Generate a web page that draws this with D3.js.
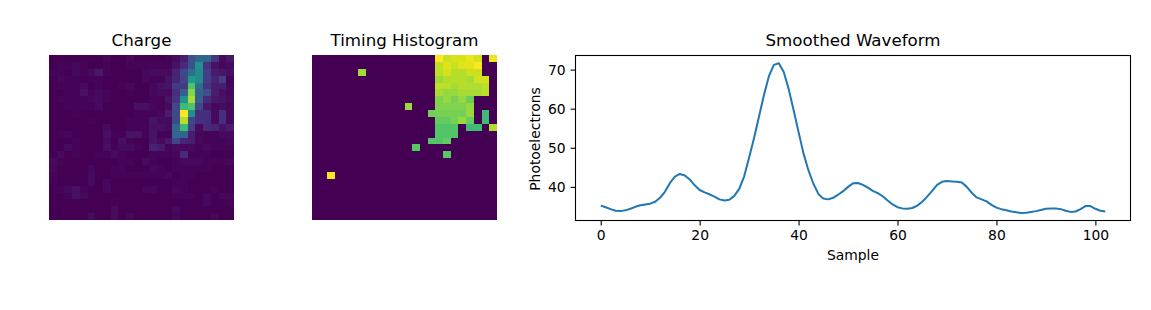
<!DOCTYPE html>
<html>
<head>
<meta charset="utf-8">
<script src="https://cdnjs.cloudflare.com/ajax/libs/d3/7.8.5/d3.min.js"></script>
<style>
  html, body { margin: 0; padding: 0; background: #fff; }
  svg { display: block; }
  text { font-family: "DejaVu Sans", sans-serif; fill: #000; }
  .title { font-size: 16.67px; text-anchor: middle; }
  .label { font-size: 13.89px; text-anchor: middle; }
  .tick text { font-size: 13.89px; font-family: "DejaVu Sans", sans-serif; }
  .tick line { stroke: #000; stroke-width: 1.1px; }
</style>
</head>
<body>
<div id="chart"></div>
<script>
// charge per pixel, 0-100 of the colour range
var charge_rows = [
  [0,0,0,0,0,0,0,2,0,0,2,0,0,0,0,1,3,8,25,33,33,15,3,6],
  [0,1,1,2,1,0,0,1,0,0,1,1,1,1,1,1,5,12,24,50,15,5,2,3],
  [1,1,0,2,1,3,6,1,0,0,0,0,2,3,3,3,10,22,36,48,18,8,6,4],
  [0,2,1,1,0,1,1,0,0,0,0,0,2,1,1,5,10,20,55,48,18,10,18,1],
  [0,1,1,1,3,0,1,0,0,1,2,0,0,2,4,5,17,17,72,36,15,8,8,2],
  [0,0,1,1,4,1,2,1,0,0,1,0,0,2,3,3,14,30,82,30,24,8,4,2],
  [0,1,1,1,1,2,3,1,0,0,0,0,0,1,1,5,15,50,87,30,12,6,5,3],
  [0,0,1,1,1,1,3,0,0,0,0,4,4,2,1,3,22,68,72,22,6,2,3,2],
  [0,0,0,1,0,0,0,0,0,0,0,1,1,1,2,8,22,100,50,13,13,3,14,2],
  [0,0,0,0,0,1,0,0,0,0,1,1,1,5,3,3,22,89,22,13,13,3,14,2],
  [0,0,0,0,0,0,0,3,0,0,1,1,1,4,4,3,33,68,18,3,12,10,5,8],
  [0,1,2,0,0,0,0,4,1,1,5,5,1,5,1,1,33,32,8,2,1,1,3,3],
  [0,0,0,1,0,0,0,3,0,4,1,0,0,5,3,6,20,10,8,2,1,1,1,2],
  [0,0,3,1,0,0,0,4,1,3,3,1,0,9,7,1,3,2,3,1,3,1,1,1],
  [0,3,0,1,0,0,1,1,3,1,0,0,0,1,1,1,2,12,1,1,1,0,0,0],
  [3,1,0,0,0,0,0,0,0,1,1,0,3,1,0,0,1,2,2,2,1,1,1,2],
  [2,0,0,0,0,2,0,0,1,1,0,0,0,2,1,0,1,1,1,1,1,0,0,0],
  [1,0,0,0,0,3,0,0,1,1,1,1,1,1,1,2,0,1,1,0,0,0,0,0],
  [1,0,0,0,0,3,0,2,0,0,0,0,0,0,0,0,1,1,0,0,0,0,0,0],
  [0,1,3,4,1,0,0,2,0,0,0,0,2,2,0,0,2,1,0,0,0,1,0,0],
  [0,0,1,4,2,0,0,0,0,0,0,0,0,0,0,0,1,1,1,0,2,0,2,2],
  [0,0,0,0,0,0,0,0,1,0,0,0,0,0,0,0,0,0,0,0,2,0,0,1],
  [0,0,0,0,0,0,0,0,3,0,0,0,0,0,0,0,3,0,0,0,0,0,0,0],
  [0,0,0,0,0,3,0,0,3,0,2,0,0,0,0,0,2,0,0,0,0,2,0,0]
];

// timing per pixel, 0 is the empty background
var timing_rows = [
  [0,0,0,0,0,0,0,0,0,0,0,0,0,0,0,0,100,92,94,94,97,93,0,97],
  [0,0,0,0,0,0,0,0,0,0,0,0,0,0,0,0,90,95,92,95,96,100,0,0],
  [0,0,0,0,0,0,86,0,0,0,0,0,0,0,0,0,90,93,89,89,92,92,0,0],
  [0,0,0,0,0,0,0,0,0,0,0,0,0,0,0,0,85,88,89,89,87,93,93,0],
  [0,0,0,0,0,0,0,0,0,0,0,0,0,0,0,0,90,90,87,89,88,88,90,0],
  [0,0,0,0,0,0,0,0,0,0,0,0,0,0,0,0,87,84,84,87,87,87,90,0],
  [0,0,0,0,0,0,0,0,0,0,0,0,0,0,0,0,81,84,80,84,77,0,0,0],
  [0,0,0,0,0,0,0,0,0,0,0,0,85,0,0,0,81,81,81,81,84,0,0,0],
  [0,0,0,0,0,0,0,0,0,0,0,0,0,0,0,79,79,79,79,79,84,0,69,0],
  [0,0,0,0,0,0,0,0,0,0,0,0,0,0,0,0,76,76,80,84,77,0,69,0],
  [0,0,0,0,0,0,0,0,0,0,0,0,0,0,0,0,73,73,73,0,69,69,0,88],
  [0,0,0,0,0,0,0,0,0,0,0,0,0,0,0,0,73,73,73,0,0,0,0,0],
  [0,0,0,0,0,0,0,0,0,0,0,0,0,0,0,73,73,76,0,0,0,0,0,0],
  [0,0,0,0,0,0,0,0,0,0,0,0,0,74,0,0,0,0,0,0,0,0,0,0],
  [0,0,0,0,0,0,0,0,0,0,0,0,0,0,0,0,0,74,0,0,0,0,0,0],
  [0,0,0,0,0,0,0,0,0,0,0,0,0,0,0,0,0,0,0,0,0,0,0,0],
  [0,0,0,0,0,0,0,0,0,0,0,0,0,0,0,0,0,0,0,0,0,0,0,0],
  [0,0,100,0,0,0,0,0,0,0,0,0,0,0,0,0,0,0,0,0,0,0,0,0],
  [0,0,0,0,0,0,0,0,0,0,0,0,0,0,0,0,0,0,0,0,0,0,0,0],
  [0,0,0,0,0,0,0,0,0,0,0,0,0,0,0,0,0,0,0,0,0,0,0,0],
  [0,0,0,0,0,0,0,0,0,0,0,0,0,0,0,0,0,0,0,0,0,0,0,0],
  [0,0,0,0,0,0,0,0,0,0,0,0,0,0,0,0,0,0,0,0,0,0,0,0],
  [0,0,0,0,0,0,0,0,0,0,0,0,0,0,0,0,0,0,0,0,0,0,0,0],
  [0,0,0,0,0,0,0,0,0,0,0,0,0,0,0,0,0,0,0,0,0,0,0,0]
];

// smoothed waveform, one value per sample
var waveform = [
  35.2,34.8,34.3,33.9,33.8,34,34.4,34.9,35.3,35.5,
  35.7,36.2,37.2,38.8,41,42.6,43.3,42.9,41.9,40.4,
  39.2,38.6,38.1,37.5,36.8,36.5,36.7,37.7,39.5,42.7,
  47.5,52.5,58,63.5,68.3,71.2,71.6,69.4,65,59.6,
  54,48.5,44.2,40.8,38.2,37,36.8,37.2,38,38.9,
  40,40.9,41,40.5,39.8,39,38.4,37.6,36.5,35.5,
  34.8,34.5,34.4,34.6,35.2,36.2,37.5,39,40.5,41.3,
  41.5,41.4,41.3,41.1,40,38.5,37.3,36.8,36.3,35.4,
  34.7,34.3,34,33.7,33.5,33.3,33.4,33.6,33.8,34.1,
  34.4,34.5,34.5,34.3,33.9,33.6,33.7,34.3,35.1,35.1,
  34.4,33.9,33.7
];

var x_ticks = [0, 20, 40, 60, 80, 100];
var y_ticks = [40, 50, 60, 70];

var width = 1151, height = 310;

var svg = d3.select("#chart").append("svg")
  .attr("width", width)
  .attr("height", height);

// snap a cell edge to a whole pixel, toFixed keeps both neighbours on the same side
function snap(v) {
  return Math.round(+v.toFixed(3));
}

function draw_image(rows, left, title) {
  var xScale = d3.scaleBand().domain(d3.range(rows[0].length)).range([left, left + 185]);
  var yScale = d3.scaleBand().domain(d3.range(rows.length)).range([55, 220]);
  var color = d3.scaleSequential(d3.interpolateViridis).domain([0, 100]);

  var g = svg.append("g").attr("shape-rendering", "crispEdges");
  rows.forEach(function(row, r) {
    var y0 = snap(yScale(r));
    var y1 = snap(yScale(r) + yScale.bandwidth());
    g.selectAll(".r" + r)
      .data(row)
      .enter().append("rect")
      .attr("class", "r" + r)
      .attr("x", function(d, c) { return snap(xScale(c)); })
      .attr("y", y0)
      .attr("width", function(d, c) { return snap(xScale(c) + xScale.bandwidth()) - snap(xScale(c)); })
      .attr("height", y1 - y0)
      .attr("fill", function(d) { return color(d); });
  });

  svg.append("text")
    .attr("class", "title")
    .attr("x", left + 92.5)
    .attr("y", 46)
    .text(title);
}

draw_image(charge_rows, 49, "Charge");
draw_image(timing_rows, 312, "Timing Histogram");

var margin = { top: 55.5, right: 20.5, bottom: 89.5, left: 575.5 };

var xScale = d3.scaleLinear()
  .domain([-5.1, 107.1])
  .range([margin.left, width - margin.right]);

var yScale = d3.scaleLinear()
  .domain([31.4, 73.6])
  .range([height - margin.bottom, margin.top]);

var line = d3.line()
  .x(function(d, i) { return xScale(i); })
  .y(function(d) { return yScale(d); });

svg.append("path")
  .datum(waveform)
  .attr("d", line)
  .attr("fill", "none")
  .attr("stroke", "#1f77b4")
  .attr("stroke-width", 2)
  .attr("stroke-linejoin", "round");

var xAxis = svg.append("g")
  .attr("transform", "translate(0," + (height - margin.bottom) + ")")
  .call(d3.axisBottom(xScale).tickValues(x_ticks).tickSize(4.9).tickPadding(5).tickFormat(d3.format("d")));

var yAxis = svg.append("g")
  .attr("transform", "translate(" + margin.left + ",0)")
  .call(d3.axisLeft(yScale).tickValues(y_ticks).tickSize(4.9).tickPadding(5).tickFormat(d3.format("d")));

xAxis.select(".domain").remove();
yAxis.select(".domain").remove();

svg.append("rect")
  .attr("x", margin.left)
  .attr("y", margin.top)
  .attr("width", width - margin.right - margin.left)
  .attr("height", height - margin.bottom - margin.top)
  .attr("fill", "none")
  .attr("stroke", "#000")
  .attr("stroke-width", 1.1);

svg.append("text")
  .attr("class", "title")
  .attr("x", (margin.left + width - margin.right) / 2)
  .attr("y", 46)
  .text("Smoothed Waveform");

svg.append("text")
  .attr("class", "label")
  .attr("x", (margin.left + width - margin.right) / 2)
  .attr("y", 260)
  .text("Sample");

svg.append("text")
  .attr("class", "label")
  .attr("transform", "translate(540," + (margin.top + 83.5) + ") rotate(-90)")
  .text("Photoelectrons");
</script>
</body>
</html>
